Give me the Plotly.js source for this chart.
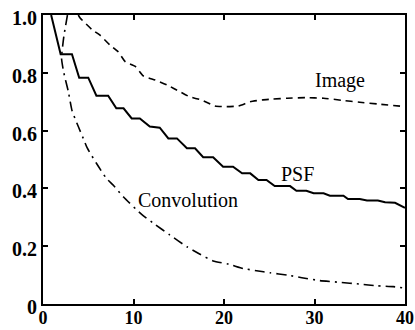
<!DOCTYPE html>
<html>
<head>
<meta charset="utf-8">
<script src="https://cdn.plot.ly/plotly-3.0.1.min.js"></script>
<style>html,body{margin:0;padding:0;background:#fff;}#chart{width:415px;height:330px;}</style>
</head>
<body>
<div id="chart"></div>
<script>
// PSF (solid staircase)
const psfX = [0.9, 1.95, 3.2, 4.0, 5.0, 5.9, 7.2, 8.1, 8.9, 9.8, 10.7, 11.8, 12.9, 13.85, 14.8, 15.9, 16.8, 17.7, 18.8, 19.9, 21.0, 22.0, 22.9, 23.8, 24.7, 25.6, 27.3, 28.0, 29.1, 29.9, 31.0, 31.7, 33.2, 33.7, 35.0, 35.8, 37.0, 37.8, 38.9, 39.8, 40];
const psfY = [1.0, 0.864, 0.864, 0.783, 0.783, 0.721, 0.721, 0.677, 0.677, 0.642, 0.642, 0.614, 0.610, 0.573, 0.573, 0.539, 0.539, 0.508, 0.508, 0.475, 0.475, 0.452, 0.452, 0.429, 0.429, 0.408, 0.408, 0.392, 0.392, 0.383, 0.383, 0.375, 0.375, 0.363, 0.363, 0.358, 0.358, 0.352, 0.350, 0.337, 0.333];
// Image (dashed)
const imgX = [3.9, 4.1, 5.4, 6.3, 7.4, 8.3, 9.1, 10.2, 11.1, 12.4, 13.7, 15.1, 16.2, 17.5, 19.0, 20.3, 21.6, 22.9, 24.2, 25.4, 27, 29, 31, 33, 35, 37, 40];
const imgY = [1.0, 0.99, 0.95, 0.93, 0.896, 0.873, 0.838, 0.822, 0.789, 0.775, 0.758, 0.735, 0.717, 0.706, 0.685, 0.683, 0.685, 0.70, 0.706, 0.709, 0.712, 0.714, 0.712, 0.705, 0.698, 0.692, 0.683];
// Convolution (dash-dot)
const convX = [2.7, 2.3, 2.05, 2.3, 2.8, 3.2, 3.9, 4.45, 4.9, 5.9, 7.0, 7.8, 8.9, 10.9, 12.4, 14.0, 15.9, 17.3, 18.8, 20.5, 22.1, 23.6, 25.1, 27.0, 28.6, 30.6, 32.8, 35.0, 36.9, 38.7, 40];
const convY = [1.0, 0.925, 0.85, 0.80, 0.735, 0.67, 0.614, 0.573, 0.539, 0.487, 0.435, 0.41, 0.37, 0.31, 0.275, 0.239, 0.198, 0.173, 0.149, 0.138, 0.123, 0.115, 0.108, 0.10, 0.091, 0.081, 0.075, 0.069, 0.063, 0.06, 0.055];

const xTicks = [0, 10, 20, 30, 40];
const xTickText = ['0', '10', '20', '30', '40'];
const yTicks = [0, 0.2, 0.4, 0.6, 0.8, 1.0];
const yTickText = ['0', '0.2', '0.4', '0.6', '0.8', '1.0'];

const labelText = ['Image', 'PSF', 'Convolution'];
const labelX = [32.8, 28.1, 16.0];
const labelY = [0.772, 0.45, 0.36];

const serif = 'Liberation Serif';

const traces = [
  {x: psfX, y: psfY, mode: 'lines', line: {color: '#000', width: 2}, hoverinfo: 'skip'},
  {x: imgX, y: imgY, mode: 'lines', line: {color: '#000', width: 1.6, dash: '7px,5px', shape: 'spline', smoothing: 0.5}, hoverinfo: 'skip'},
  {x: convX, y: convY, mode: 'lines', line: {color: '#000', width: 1.6, dash: '10px,5px,2px,5px', shape: 'spline', smoothing: 0.5}, hoverinfo: 'skip'}
];

const annotations = labelText.map((t, i) => ({
  x: labelX[i], y: labelY[i], xref: 'x', yref: 'y', text: t, showarrow: false,
  font: {family: serif, size: 20, color: '#000'}
}));

const axisCommon = {
  showgrid: false, zeroline: false, showline: true, linecolor: '#000', linewidth: 2,
  ticks: 'inside', ticklen: 5, tickwidth: 2, tickcolor: '#000', mirror: 'ticks'
};

const layout = {
  width: 415, height: 330,
  margin: {l: 43, r: 10, t: 15, b: 26},
  paper_bgcolor: '#fff', plot_bgcolor: '#fff',
  showlegend: false,
  xaxis: Object.assign({}, axisCommon, {range: [0, 40], tickvals: xTicks, ticktext: xTickText,
    tickfont: {family: serif, size: 18, color: '#000', weight: 700}, ticklabelstandoff: -4}),
  yaxis: Object.assign({}, axisCommon, {range: [0, 1], tickvals: yTicks, ticktext: yTickText, ticklabelshift: 3,
    tickfont: {family: serif, size: 20, color: '#000', weight: 700}}),
  annotations: annotations
};

Plotly.newPlot('chart', traces, layout, {staticPlot: true, displayModeBar: false});
</script>
</body>
</html>
